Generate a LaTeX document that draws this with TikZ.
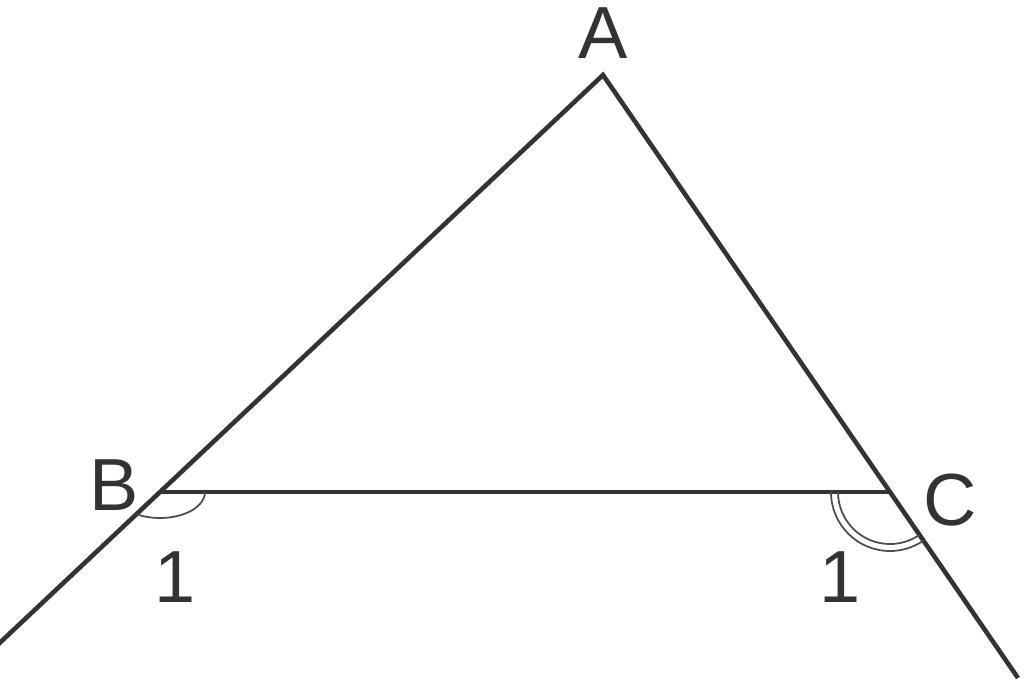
\documentclass[tikz,border=0pt]{standalone}
\usetikzlibrary{calc}
\usepackage{fontspec}
\setmainfont{Liberation Sans}
\begin{document}
\begin{tikzpicture}[x=0.01cm,y=-0.01cm,
  seg/.style={line width=1.3pt,draw=black!80},
  arcmark/.style={line width=0.5pt,draw=black!70},
  lbl/.style={font=\fontsize{21}{21}\selectfont,text=black!80,inner sep=0pt}]
\useasboundingbox (0,0) rectangle (1024,678);
\coordinate (A) at (603,75);
\coordinate (B) at (160,492);
\coordinate (C) at (890,492);
\coordinate (L) at ($(A)!1.37!(B)$);
\coordinate (R) at ($(A)!1.446!(C)$);
\draw[seg,line join=miter] (L) -- (A) -- (R);
\draw[seg] (B) -- (C);
% angle marks
\draw[arcmark] ([shift={(121.5:45 and 26)}]B) arc[start angle=121.5,end angle=0,x radius=45,y radius=26];
\draw[arcmark] ([shift={(180:52)}]C) arc[start angle=180,end angle=55.5,radius=52];
\draw[arcmark] ([shift={(180:59)}]C) arc[start angle=180,end angle=55.5,radius=59];
% labels
\node[lbl] (la) at (603,33) {A};
\node[lbl] (lb) at (114,485) {B};
\node[lbl] (lc) at (950,500) {C};
\node[lbl] (l1) at (175,577) {1};
\node[lbl] (l2) at (840,577) {1};
\end{tikzpicture}
\end{document}
